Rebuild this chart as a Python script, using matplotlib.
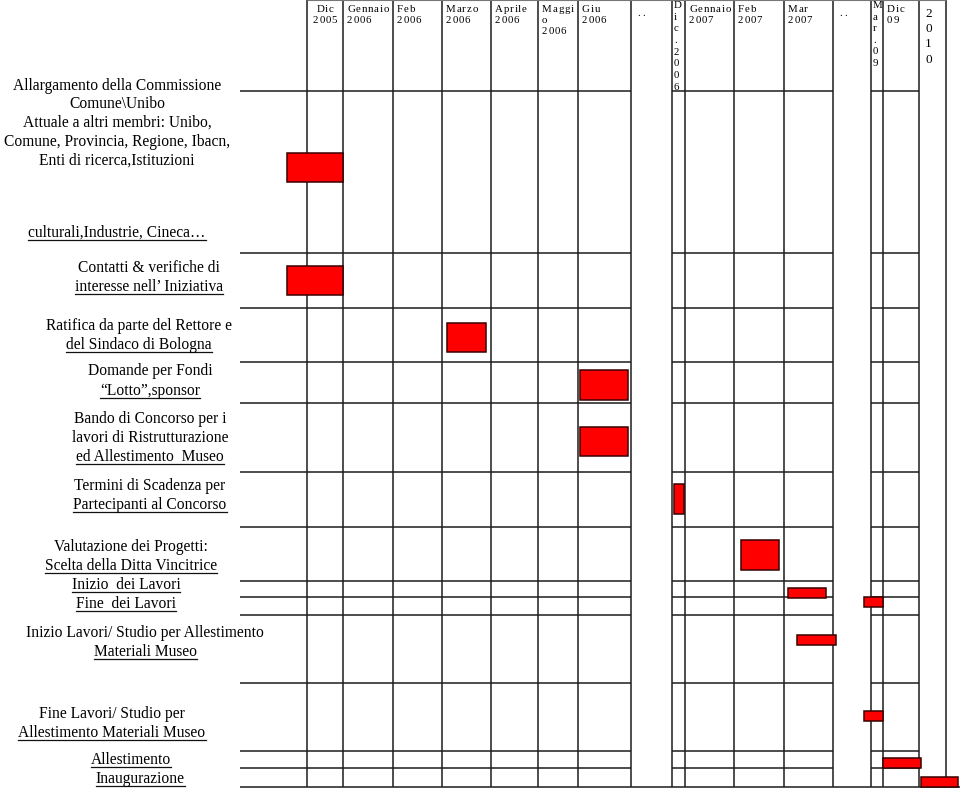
import numpy as np
import matplotlib
matplotlib.use("Agg")
import matplotlib.pyplot as plt
from matplotlib.font_manager import FontProperties, findfont
from matplotlib.ft2font import FT2Font

SERIF = ["Liberation Serif", "DejaVu Serif"]

# month columns of the planning grid ("" = blank column)
months = ["", "Dic\n2005", "Gennaio\n2006", "Feb\n2006", "Marzo\n2006",
          "Aprile\n2006", "Maggi\no\n2006", "Giu\n2006", "..", "Dic.2006",
          "Gennaio\n2007", "Feb\n2007", "Mar\n2007", "..", "Mar.09",
          "Dic\n09", "2010", ""]
stacked = [9, 14, 16]        # headers written one character per line
no_rule = [8, 13, 16, 17]    # columns without row separators

# activities (text lines, last one underlined)
tasks = [
    ["Allargamento della Commissione", "Comune\\Unibo",
     "Attuale a altri membri: Unibo,", "Comune, Provincia, Regione, Ibacn,",
     "Enti di ricerca,Istituzioni", "culturali,Industrie, Cineca\u2026"],
    ["Contatti & verifiche di", "interesse nell\u2019 Iniziativa"],
    ["Ratifica da parte del Rettore e", "del Sindaco di Bologna"],
    ["Domande per Fondi", "\u201cLotto\u201d,sponsor"],
    ["Bando di Concorso per i", "lavori di Ristrutturazione",
     "ed Allestimento  Museo"],
    ["Termini di Scadenza per", "Partecipanti al Concorso"],
    ["Valutazione dei Progetti:", "Scelta della Ditta Vincitrice"],
    ["Inizio  dei Lavori"],
    ["Fine  dei Lavori"],
    ["Inizio Lavori/ Studio per Allestimento", "Materiali Museo"],
    ["Fine Lavori/ Studio per", "Allestimento Materiali Museo"],
    ["Allestimento"],
    ["Inaugurazione"],
]
# bar start / end, in month-column units
task_start = [0.70, 0.70, 4.10, 7.04, 7.04, 9.15, 11.14, 12.08, 13.82,
              12.27, 13.82, 15.0, 16.07]
task_end = [2.0, 2.0, 4.90, 7.94, 7.94, 9.92, 11.90, 12.86, 15.0,
            13.08, 15.0, 16.07, 17.86]

# ---- layout (pixels) ----
col_px = [0, 240, 307, 343, 393, 442, 491, 538, 578, 631, 672, 685, 734,
          784, 833, 871, 883, 919, 946, 960]
row_px = [0, 91, 253, 308, 362, 403, 472, 527, 581, 597, 615, 683, 751,
          768, 787, 790]
bar_rows = [(0.383, 0.562), (0.236, 0.764), (0.278, 0.815), (0.195, 0.927),
            (0.348, 0.768), (0.218, 0.764), (0.241, 0.796), (0.438, 1.06),
            (0.0, 0.556), (0.294, 0.441), (0.412, 0.559), (0.41, 1.0),
            (0.474, 1.0)]
label_cx = [117, 149, 139, 150, 150, 150, 131, 126, 126, 145, 112, 131, 140]
label_cy = [[85, 103, 122, 141, 160, 232], [267, 286], [325, 344], [370, 390],
            [418, 437, 456], [485, 504], [546, 565], [584], [603], [632, 651],
            [713, 732], [759], [778]]
# stacked headers: (x offset, top y, font size, line spacing)
stack_fmt = {9: (2, 1, 7.8, 1.38), 14: (2, 1, 7.8, 1.36),
             16: (6, 8, 9.5, 1.36)}

col_u = np.arange(-1, len(col_px) - 1)
row_u = np.arange(-1, len(row_px) - 1)

fig = plt.figure(figsize=(9.6, 7.9), dpi=100)
ax = fig.add_axes([0, 0, 1, 1])
ax.set_xscale("function", functions=(lambda u: np.interp(u, col_u, col_px),
                                     lambda p: np.interp(p, col_px, col_u)))
ax.set_yscale("function", functions=(lambda u: np.interp(u, row_u, row_px),
                                     lambda p: np.interp(p, row_px, row_u)))
ax.set_xlim(-1, len(col_px) - 2)
ax.set_ylim(len(row_px) - 2, -1)
ax.axis("off")

lc = "#1c1c1c"
ncol = len(months)
nrow = len(tasks)
# vertical month separators
ax.vlines(range(1, ncol), -1, nrow, color=lc, lw=1.1, zorder=1)
ax.hlines(-1, 1, ncol - 1, color="#777777", lw=0.8, zorder=1)
# row separators, broken at the ".." columns
runs, cur = [], None
for c in range(ncol):
    if c in no_rule:
        if cur is not None:
            runs.append((cur, c))
            cur = None
    elif cur is None:
        cur = c
for r in range(nrow):
    for a, b in runs:
        ax.hlines(r, a, b, color=lc, lw=1.1, zorder=1)
ax.hlines(nrow, 0, ncol, color=lc, lw=1.1, zorder=1)

# task bars
for i in range(nrow):
    t, b = bar_rows[i]
    ax.barh(i + (t + b) / 2, task_end[i] - task_start[i], left=task_start[i],
            height=b - t, color="#ff0000", edgecolor="#3a0000", lw=1.1,
            zorder=3)

# text overlay in pixel coordinates
tx = fig.add_axes([0, 0, 1, 1])
tx.set_xlim(0, 960)
tx.set_ylim(790, 0)
tx.axis("off")
ren = fig.canvas.get_renderer()


def spaced(x, y, s, size, track, ha="left"):
    fp = FontProperties(family=SERIF, size=size)
    ft = FT2Font(findfont(fp))
    ft.set_size(size, 100)
    adv = [ft.load_char(ord(ch)).linearHoriAdvance / 65536 for ch in s]
    total = sum(adv) + track * (len(s) - 1)
    if ha == "center":
        x -= total / 2
    for ch, w in zip(s, adv):
        tx.text(x, y, ch, fontproperties=fp, va="baseline", ha="left")
        x += w + track


hs = 7.8
for c, lab in enumerate(months):
    if not lab:
        continue
    left = col_px[c + 1]
    if c in stacked:
        dx, top, size, ls = stack_fmt[c]
        tx.text(left + dx, top, "\n".join(lab), fontsize=size, family=SERIF,
                va="top", ha="left", linespacing=ls)
    elif lab == "..":
        spaced(left + 6, 16, lab, hs, 3.0)
    else:
        for k, line in enumerate(lab.split("\n")):
            if c == 1:
                spaced((col_px[c + 1] + col_px[c + 2]) / 2, 12 + 11 * k, line,
                       hs, 0.8, ha="center")
            else:
                spaced(left + 4, 12 + 11 * k, line, hs, 0.8)

# activity labels, last line underlined
for i, lines in enumerate(tasks):
    for k, line in enumerate(lines):
        yb = label_cy[i][k] + 5
        t = tx.text(label_cx[i], yb, line, fontsize=11.2, family=SERIF,
                    ha="center", va="baseline")
        if k == len(lines) - 1:
            bb = t.get_window_extent(ren)
            tx.plot([bb.x0, bb.x1], [yb + 2.5, yb + 2.5], color="#111111",
                    lw=0.9)

fig.savefig("out.png", dpi=100)
